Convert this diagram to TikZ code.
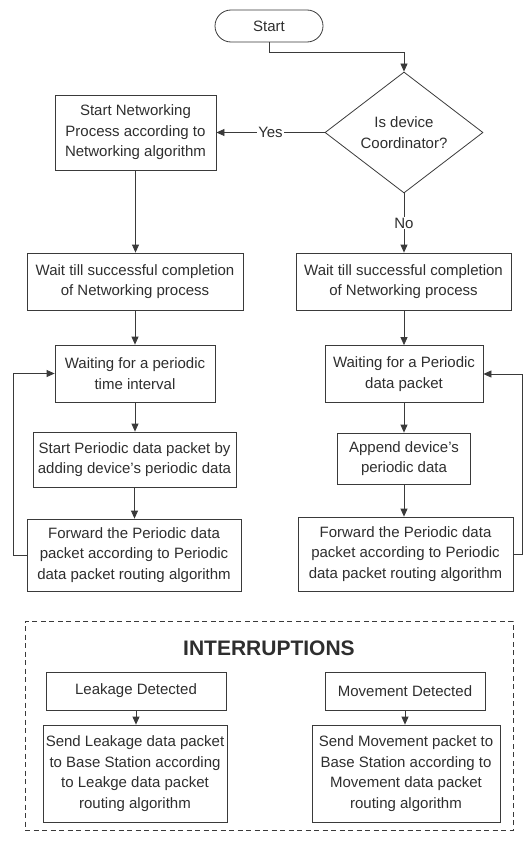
\documentclass[tikz,border=0pt]{standalone}
\usepackage{fontspec}
\setmainfont{Liberation Sans}
\usetikzlibrary{shapes.geometric,arrows.meta,calc}
\definecolor{ln}{HTML}{3A3A3A}
\definecolor{tx}{HTML}{2E2E2E}
\begin{document}
\begin{tikzpicture}[x=1pt,y=-1pt,
  base/.style={draw=ln, line width=0.8pt, text=tx, align=center, inner sep=0pt,
    font=\fontsize{15}{20.5}\selectfont},
  box/.style={base, rectangle},
  term/.style={base, rectangle, rounded corners=16pt, minimum width=108pt, minimum height=32pt},
  dec/.style={base, diamond, aspect=1.3, minimum width=158pt, minimum height=121pt},
  arr/.style={draw=ln, line width=0.8pt, -{Triangle[length=8pt,width=7pt]}},
  ln/.style={draw=ln, line width=0.8pt},
  lbl/.style={fill=white, inner sep=1pt, text=tx, font=\fontsize{15}{18}\selectfont}
]
\useasboundingbox (0,0) rectangle (523,843);

\node[term] (start) at (269,26) {Start};
\node[dec] (dec) at (404,132.5) {Is device\\Coordinator?};
\node[box, minimum width=161pt, minimum height=75pt] (n1) at (135.5,132.5)
  {Start Networking\\Process according to\\Networking algorithm};

\node[box, minimum width=216pt, minimum height=57pt] (l2) at (135,281.5)
  {Wait till successful completion\\of Networking process};
\node[box, minimum width=215pt, minimum height=57pt] (r2) at (403.5,281.5)
  {Wait till successful completion\\of Networking process};

\node[box, minimum width=160pt, minimum height=57pt] (l3) at (135,373.5)
  {Waiting for a periodic\\time interval};
\node[box, minimum width=158pt, minimum height=57pt] (r3) at (404,374)
  {Waiting for a Periodic\\data packet};

\node[box, minimum width=203pt, minimum height=55pt] (l4) at (134.5,459.5)
  {Start Periodic data packet by\\adding device's periodic data};
\node[box, minimum width=133pt, minimum height=51pt] (r4) at (404,458.5)
  {Append device's\\periodic data};

\node[box, minimum width=214pt, minimum height=72pt] (l5) at (134,555)
  {Forward the Periodic data\\packet according to Periodic\\data packet routing algorithm};
\node[box, minimum width=215pt, minimum height=74pt] (r5) at (405.5,554)
  {Forward the Periodic data\\packet according to Periodic\\data packet routing algorithm};

% interruptions
\node[draw=ln, line width=0.8pt, dash pattern=on 5pt off 3.5pt, minimum width=488pt,
  minimum height=209pt, inner sep=0pt] (intr) at (269,725.5) {};
\node[text=tx, font=\fontsize{21}{24}\selectfont\bfseries, inner sep=0pt] (ititle) at (269,648) {INTERRUPTIONS};

\node[box, minimum width=180pt, minimum height=38pt] (leak) at (136,691) {Leakage Detected};
\node[box, minimum width=160pt, minimum height=38pt] (move) at (405,691) {Movement Detected};
\node[box, minimum width=184pt, minimum height=97pt] (sleak) at (135,773.5)
  {Send Leakage data packet\\to Base Station according\\to Leakge data packet\\routing algorithm};
\node[box, minimum width=188pt, minimum height=97pt] (smove) at (406,773.5)
  {Send Movement packet to\\Base Station according to\\Movement data packet\\routing algorithm};

% connectors
\draw[arr] (start.south) -- ++(0,10) -| (dec.north);
\draw[arr] (dec.west) -- node[lbl] {Yes} (n1.east);
\draw[arr] (dec.south) -- node[lbl] {No} (dec.south |- r2.north);
\draw[arr] (n1.south) -- (n1.south |- l2.north);
\draw[arr] (l2.south) -- (l2.south |- l3.north);
\draw[arr] (r2.south) -- (r2.south -| r3.north) -- (r3.north);
\draw[arr] (l3.south) -- (l3.south |- l4.north);
\draw[arr] (r3.south) -- (r3.south |- r4.north);
\draw[arr] (l4.south) -- (l4.south |- l5.north);
\draw[arr] (r4.south) -- (r4.south |- r5.north);

\coordinate (lb1) at (13,555);
\coordinate (lb2) at (13,373.5);
\draw[arr] (l5.west) -- (lb1) -- (lb2) -- (l3.west);
\coordinate (rb1) at (522,554);
\coordinate (rb2) at (522,374);
\draw[arr] (r5.east) -- (rb1) -- (rb2) -- (r3.east);

\draw[arr] (leak.south) -- (leak.south |- sleak.north);
\draw[arr] (move.south) -- (move.south |- smove.north);
\end{tikzpicture}
\end{document}
